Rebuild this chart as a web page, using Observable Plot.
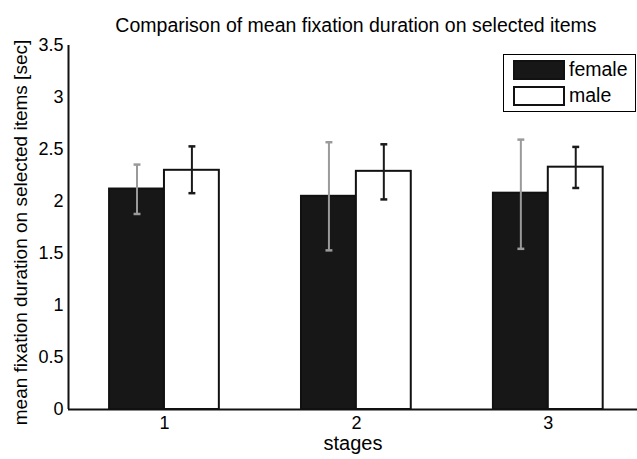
<!DOCTYPE html>
<html>
<head>
<meta charset="utf-8">
<script src="https://cdn.jsdelivr.net/npm/d3@7"></script>
<script src="https://cdn.jsdelivr.net/npm/@observablehq/plot@0.6"></script>
<style>
  html, body { margin: 0; padding: 0; background: #fff; }
  body { width: 637px; height: 459px; position: relative; overflow: hidden; font-family: "Liberation Sans", Arial, sans-serif; }
  #chart { position: absolute; left: 0; top: 0; }
  #title { position: absolute; left: 68px; width: 576px; top: 16px; text-align: center; font-size: 19.5px; line-height: 1; color: #000; white-space: nowrap; }
  #legend { position: absolute; left: 503px; top: 54px; width: 133px; height: 58px; border: 1px solid #000; background: #fff; box-sizing: border-box; font-size: 19.5px; line-height: 1; }
  .row { position: absolute; left: 9px; display: flex; align-items: center; }
  .sw { width: 52px; height: 20px; box-sizing: border-box; margin-right: 4px; }
</style>
</head>
<body>
<div id="chart"></div>
<div id="title"></div>
<div id="legend"></div>
<script>
const title = "Comparison of mean fixation duration on selected items";
const yLabel = "mean fixation duration on selected items [sec]";
const xLabel = "stages";
const stages = [1, 2, 3];
const series = ["female", "male"];
const femaleMean = [2.12, 2.05, 2.08];
const femaleLow  = [1.88, 1.53, 1.545];
const femaleHigh = [2.355, 2.57, 2.595];
const maleMean = [2.30, 2.29, 2.33];
const maleLow  = [2.08, 2.02, 2.13];
const maleHigh = [2.53, 2.55, 2.525];
const yTicks = [0, 0.5, 1, 1.5, 2, 2.5, 3, 3.5];

const fills = {female: "#171717", male: "#ffffff"};
const errColors = {female: "#9a9a9a", male: "#1a1a1a"};
const barW = 0.286;
const capHalf = 0.018;

const rows = [];
stages.forEach((s, i) => {
  rows.push({stage: s, series: "female", mean: femaleMean[i], lo: femaleLow[i], hi: femaleHigh[i], x1: s - barW, x2: s, xc: s - barW / 2});
  rows.push({stage: s, series: "male", mean: maleMean[i], lo: maleLow[i], hi: maleHigh[i], x1: s, x2: s + barW, xc: s + barW / 2});
});

document.getElementById("title").textContent = title;

const plot = Plot.plot({
  width: 637,
  height: 459,
  marginTop: 45,
  marginBottom: 50,
  marginLeft: 68,
  marginRight: 0,
  style: {fontFamily: "Liberation Sans, Arial, sans-serif", fontSize: "18px", color: "#000", background: "#fff"},
  x: {type: "linear", domain: [0.5, 3.4648], axis: null},
  y: {domain: [0, 3.5], axis: null},
  marks: [
    Plot.rect(rows, {x1: "x1", x2: "x2", y1: 0, y2: "mean", fill: d => fills[d.series], stroke: "#111", strokeWidth: 2}),
    Plot.ruleX(rows, {x: "xc", y1: "lo", y2: "hi", stroke: d => errColors[d.series], strokeWidth: 2}),
    Plot.link(rows, {x1: d => d.xc - capHalf, x2: d => d.xc + capHalf, y1: "hi", y2: "hi", stroke: d => errColors[d.series], strokeWidth: 2.5}),
    Plot.link(rows, {x1: d => d.xc - capHalf, x2: d => d.xc + capHalf, y1: "lo", y2: "lo", stroke: d => errColors[d.series], strokeWidth: 2.5}),
    Plot.ruleY([0], {stroke: "#111", strokeWidth: 2}),
    Plot.ruleX([0.5], {y1: 0, y2: 3.5, stroke: "#111", strokeWidth: 2}),
    Plot.axisY(yTicks, {tickSize: 0, tickPadding: 5, tickFormat: d => String(d), fontSize: 18, label: null}),
    Plot.axisX(stages, {tickSize: 0, tickPadding: 7, tickFormat: d => String(d), fontSize: 18, label: null}),
    Plot.text([xLabel], {frameAnchor: "bottom", dy: 40, fontSize: 20}),
    Plot.text([yLabel], {frameAnchor: "left", textAnchor: "middle", rotate: -90, dx: -48, dy: 5, fontSize: 19})
  ]
});
document.getElementById("chart").appendChild(plot);

const legend = document.getElementById("legend");
series.forEach((s, i) => {
  const row = document.createElement("div");
  row.className = "row";
  row.style.top = (i === 0 ? 5 : 31) + "px";
  const sw = document.createElement("div");
  sw.className = "sw";
  sw.style.background = fills[s];
  sw.style.border = "2px solid #111";
  row.appendChild(sw);
  const t = document.createElement("span");
  t.textContent = s;
  row.appendChild(t);
  legend.appendChild(row);
});
</script>
</body>
</html>
